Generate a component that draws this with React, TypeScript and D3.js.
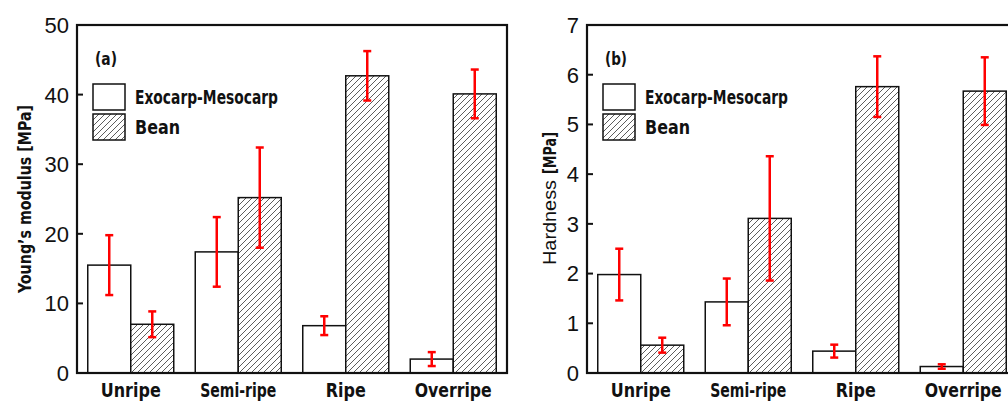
import * as d3 from 'd3';

const categories = ['Unripe', 'Semi-ripe', 'Ripe', 'Overripe'];
const categoryWidths = [60, 76, 40, 77];
const seriesNames = ['Exocarp-Mesocarp', 'Bean'];
const seriesWidths = [143, 45];

// panel (a) Young's modulus
const modulusExo = [15.5, 17.4, 6.8, 2.0];
const modulusExoErr = [4.3, 5.0, 1.35, 1.0];
const modulusBean = [7.0, 25.2, 42.7, 40.1];
const modulusBeanErr = [1.85, 7.2, 3.55, 3.5];
const modulusTicks = [0, 10, 20, 30, 40, 50];

// panel (b) hardness
const hardExo = [1.98, 1.43, 0.44, 0.13];
const hardExoErr = [0.52, 0.47, 0.13, 0.045];
const hardBean = [0.56, 3.11, 5.76, 5.67];
const hardBeanErr = [0.15, 1.25, 0.61, 0.68];
const hardTicks = [0, 1, 2, 3, 4, 5, 6, 7];

const W = 1008;
const H = 401;
const top = 25;
const bottom = 373;
const boldFont = '"DejaVu Sans Condensed", "DejaVu Sans", sans-serif';
const numFont = '"Liberation Sans", Arial, sans-serif';

interface PanelProps {
  left: number;
  right: number;
  maxY: number;
  ticks: number[];
  exo: number[];
  exoErr: number[];
  bean: number[];
  beanErr: number[];
  tag: string;
  labelX: number;
  label: React.ReactNode;
}

function Panel({ left, right, maxY, ticks, exo, exoErr, bean, beanErr, tag, labelX, label }: PanelProps) {
  const x = d3.scaleBand<string>().domain(categories).range([left, right]).paddingInner(0.2).paddingOuter(0.1);
  const inner = d3.scaleBand<string>().domain(seriesNames).range([0, x.bandwidth()]);
  const y = d3.scaleLinear().domain([0, maxY]).range([bottom, top]);

  const series = [
    { name: seriesNames[0], vals: exo, errs: exoErr, fill: '#fff' },
    { name: seriesNames[1], vals: bean, errs: beanErr, fill: 'url(#hatch)' },
  ];

  return (
    <g>
      {/* bars */}
      {series.map((s) =>
        categories.map((c, i) => (
          <rect
            key={s.name + c}
            x={x(c)! + inner(s.name)!}
            y={y(s.vals[i])}
            width={inner.bandwidth()}
            height={bottom - y(s.vals[i])}
            fill={s.fill}
            stroke="#111"
            strokeWidth={1.5}
          />
        ))
      )}
      {/* error bars */}
      {series.map((s) =>
        categories.map((c, i) => {
          const cx = x(c)! + inner(s.name)! + inner.bandwidth() / 2;
          const y1 = y(s.vals[i] + s.errs[i]);
          const y2 = y(s.vals[i] - s.errs[i]);
          return (
            <g key={'e' + s.name + c} stroke="#f00" strokeWidth={2.5}>
              <line x1={cx} x2={cx} y1={y1} y2={y2} />
              <line x1={cx - 4} x2={cx + 4} y1={y1} y2={y1} />
              <line x1={cx - 4} x2={cx + 4} y1={y2} y2={y2} />
            </g>
          );
        })
      )}
      {/* frame */}
      <rect x={left} y={top} width={right - left} height={bottom - top} fill="none" stroke="#111" strokeWidth={2.2} />
      {/* y ticks (inward) */}
      {ticks.map((t) => (
        <g key={t}>
          <line x1={left} x2={left + 6} y1={y(t)} y2={y(t)} stroke="#111" strokeWidth={2} />
          <text x={left - 8} y={y(t)} dy="0.36em" textAnchor="end" fontFamily={numFont} fontSize={22} fill="#111">
            {t}
          </text>
        </g>
      ))}
      {/* category labels */}
      {categories.map((c, i) => (
        <text
          key={c}
          x={x(c)! + x.bandwidth() / 2}
          y={397}
          textAnchor="middle"
          fontFamily={boldFont}
          fontWeight="bold"
          fontSize={20}
          textLength={categoryWidths[i]}
          lengthAdjust="spacingAndGlyphs"
          fill="#111"
        >
          {c}
        </text>
      ))}
      {/* panel tag and legend */}
      <text
        x={left + 18}
        y={top + 40}
        fontFamily={boldFont}
        fontWeight="bold"
        fontSize={18}
        textLength={22}
        lengthAdjust="spacingAndGlyphs"
        fill="#111"
      >
        {tag}
      </text>
      {series.map((s, i) => (
        <g key={'l' + s.name} transform={`translate(${left + 16},${top + 59 + i * 30})`}>
          <rect width={32} height={26} fill={s.fill} stroke="#111" strokeWidth={1.5} />
          <text
            x={42}
            y={13}
            dy="0.36em"
            fontFamily={boldFont}
            fontWeight="bold"
            fontSize={19}
            textLength={seriesWidths[i]}
            lengthAdjust="spacingAndGlyphs"
            fill="#111"
          >
            {s.name}
          </text>
        </g>
      ))}
      {/* y label */}
      <g transform={`translate(${labelX},${(top + bottom) / 2}) rotate(-90)`}>{label}</g>
    </g>
  );
}

export default function App() {
  return (
    <svg width={W} height={H} style={{ position: 'absolute', left: 0, top: 0, background: '#fff' }}>
      <defs>
        <pattern id="hatch" patternUnits="userSpaceOnUse" width={6} height={6}>
          <rect width={6} height={6} fill="#fff" />
          <path d="M0,6 L6,0 M-1,1 L1,-1 M5,7 L7,5" stroke="#333" strokeWidth={0.8} />
        </pattern>
      </defs>
      <Panel
        left={77}
        right={507}
        maxY={50}
        ticks={modulusTicks}
        exo={modulusExo}
        exoErr={modulusExoErr}
        bean={modulusBean}
        beanErr={modulusBeanErr}
        tag="(a)"
        labelX={31}
        label={
          <text
            textAnchor="middle"
            fontFamily={boldFont}
            fontWeight="bold"
            fontSize={17}
            textLength={188}
            lengthAdjust="spacingAndGlyphs"
            fill="#111"
          >
            Young’s modulus  [MPa]
          </text>
        }
      />
      <Panel
        left={587}
        right={1017}
        maxY={7}
        ticks={hardTicks}
        exo={hardExo}
        exoErr={hardExoErr}
        bean={hardBean}
        beanErr={hardBeanErr}
        tag="(b)"
        labelX={556}
        label={
          <>
            <text x={-66} fontFamily={numFont} fontSize={18} textLength={85} lengthAdjust="spacingAndGlyphs" fill="#111">
              Hardness
            </text>
            <text
              x={25}
              fontFamily={boldFont}
              fontWeight="bold"
              fontSize={17}
              textLength={42}
              lengthAdjust="spacingAndGlyphs"
              fill="#111"
            >
              [MPa]
            </text>
          </>
        }
      />
    </svg>
  );
}
